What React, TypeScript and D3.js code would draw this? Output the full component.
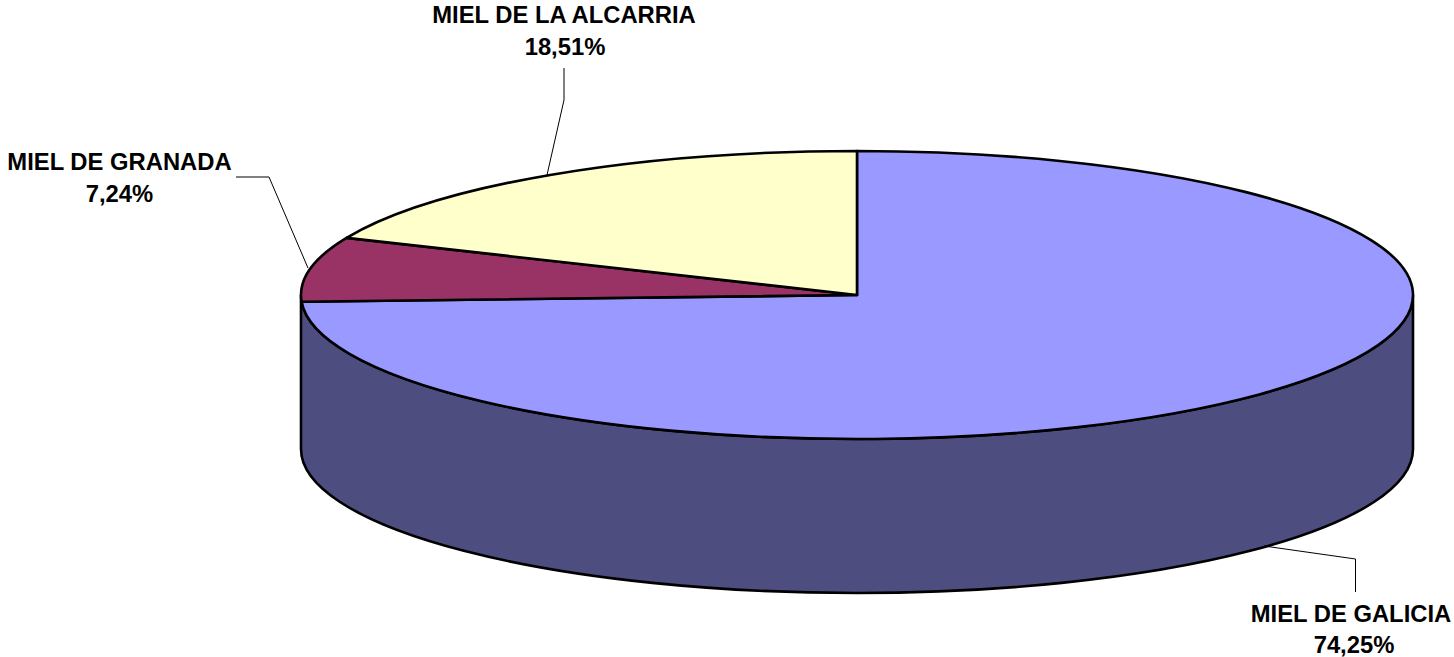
import React from "react";
import * as d3 from "d3";

const categories = ["MIEL DE GALICIA", "MIEL DE GRANADA", "MIEL DE LA ALCARRIA"];
const shares = [74.25, 7.24, 18.51];
const shareLabels = ["74,25%", "7,24%", "18,51%"];
const topColors = ["#9999ff", "#993366", "#ffffcc"];
const sideColor = "#4d4d80";

const cx = 857, cy = 295, rx = 556, ry = 144, depth = 154;

export default function App() {
  const pie = d3.pie<number>().value((d) => d).sort(null).startAngle(0).endAngle(2 * Math.PI);
  // Slice order clockwise from 12 o'clock: Galicia, Granada, Alcarria
  const arcs = pie(shares);
  const sx = d3.scaleLinear().domain([-1, 1]).range([cx - rx, cx + rx]);
  const sy = d3.scaleLinear().domain([-1, 1]).range([cy - ry, cy + ry]);

  const pt = (a: number) => [sx(Math.sin(a)), sy(-Math.cos(a))];
  const slicePath = (a0: number, a1: number) => {
    const [x0, y0] = pt(a0);
    const [x1, y1] = pt(a1);
    const large = a1 - a0 > Math.PI ? 1 : 0;
    return `M${cx},${cy}L${x0},${y0}A${rx},${ry} 0 ${large} 1 ${x1},${y1}Z`;
  };
  const sidePath = `M${cx - rx},${cy}A${rx},${ry} 0 0 0 ${cx + rx},${cy}L${cx + rx},${cy + depth}A${rx},${ry} 0 0 1 ${cx - rx},${cy + depth}Z`;

  const font = { fontFamily: "Liberation Sans, Arial, sans-serif", fontSize: 23.8, fontWeight: 700 } as const;
  const labels = [
    { x: 1351, x2: 1354, y1: 622, y2: 652.5 },
    { x: 119.5, x2: 119.5, y1: 170, y2: 202 },
    { x: 564, x2: 565, y1: 23, y2: 55 },
  ];
  return (
    <svg width={1454} height={657} style={{ position: "absolute", left: 0, top: 0, background: "#fff" }}>
      <path d={sidePath} fill={sideColor} stroke="#000" strokeWidth={2.6} />
      {arcs.map((a, i) => (
        <path key={i} d={slicePath(a.startAngle, a.endAngle)} fill={topColors[i]} stroke="#000" strokeWidth={2.6} strokeLinejoin="round" />
      ))}
      <g fill="none" stroke="#000" strokeWidth={1}>
        <polyline points="1264,546 1355.5,559 1355.5,592" />
        <polyline points="308,268 269,177 236,177" />
        <polyline points="547,175 564,100 564,68" />
      </g>
      {categories.map((c, i) => (
        <g key={c} {...font} textAnchor="middle" fill="#000">
          <text x={labels[i].x} y={labels[i].y1}>{c}</text>
          <text x={labels[i].x2} y={labels[i].y2}>{shareLabels[i]}</text>
        </g>
      ))}
    </svg>
  );
}
